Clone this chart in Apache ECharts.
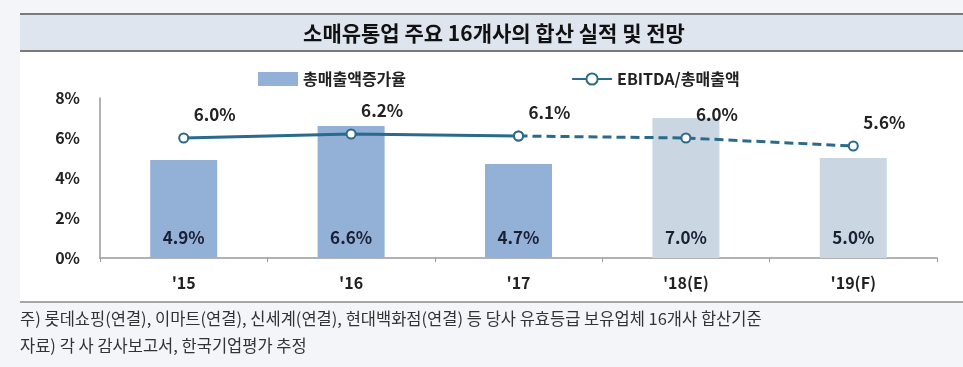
<!DOCTYPE html>
<html><head><meta charset="utf-8">
<script src="https://cdn.jsdelivr.net/npm/echarts@6/dist/echarts.min.js"></script>
<style>html,body{margin:0;padding:0;background:#f3f5f9;}#c{width:963px;height:367px;}</style>
</head><body><div id="c"></div>
<script>
const titleText = '소매유통업 주요 16개사의 합산 실적 및 전망';
const categories = ["'15", "'16", "'17", "'18(E)", "'19(F)"];
const salesGrowth = [4.9, 6.6, 4.7, 7.0, 5.0];
const ebitdaActual = [6.0, 6.2, 6.1, null, null];
const ebitdaForecast = [null, null, 6.1, 6.0, 5.6];
const yTicks = [0, 2, 4, 6, 8];
const barName = '총매출액증가율';
const lineName = 'EBITDA/총매출액';
const notes = ['주) 롯데쇼핑(연결), 이마트(연결), 신세계(연결), 현대백화점(연결) 등 당사 유효등급 보유업체 16개사 합산기준',
               '자료) 각 사 감사보고서, 한국기업평가 추정'];

const FONT = '"Noto Sans CJK KR", "Noto Sans", sans-serif';
const actualBar = '#93b1d7', fcBar = '#cad7e3', lineC = '#2b6a8a';
const chart = echarts.init(document.getElementById('c'));
chart.setOption({
  animation: false,
  textStyle: {fontFamily: FONT},
  graphic: [
    {type: 'rect', shape: {x: 20, y: 51, width: 943, height: 251}, style: {fill: '#ffffff'}, z: -10},
    {type: 'rect', shape: {x: 20, y: 14, width: 943, height: 37}, style: {fill: '#dfe5ee'}, z: -5},
    {type: 'line', shape: {x1: 20, y1: 14, x2: 963, y2: 14}, style: {stroke: '#7a7a7a', lineWidth: 2}},
    {type: 'line', shape: {x1: 20, y1: 51, x2: 963, y2: 51}, style: {stroke: '#7a7a7a', lineWidth: 2}},
    {type: 'line', shape: {x1: 20, y1: 302, x2: 963, y2: 302}, style: {stroke: '#8a8a8a', lineWidth: 1.5}},
    {type: 'text', x: 494, y: 33, style: {text: titleText, font: 'bold 21px ' + FONT, fill: '#111', align: 'center', verticalAlign: 'middle', textAlign: 'center', textVerticalAlign: 'middle'}},
    {type: 'text', x: 20, y: 319, style: {text: notes[0], font: '16.5px ' + FONT, fill: '#333', verticalAlign: 'middle', textVerticalAlign: 'middle'}},
    {type: 'text', x: 20, y: 346, style: {text: notes[1], font: '16.5px ' + FONT, fill: '#333', verticalAlign: 'middle', textVerticalAlign: 'middle'}}
  ],
  legend: {
    left: 253, top: 66, itemGap: 165, itemWidth: 40, itemHeight: 14,
    textStyle: {fontFamily: FONT, fontWeight: 'bold', fontSize: 16, color: '#222'},
    data: [{name: barName, icon: 'rect', itemStyle: {color: actualBar}}, {name: lineName}]
  },
  grid: {left: 100, right: 26, top: 98, bottom: 109},
  xAxis: {
    type: 'category', data: categories,
    axisLine: {lineStyle: {color: '#999', width: 1.5}},
    axisTick: {show: true, length: 4, lineStyle: {color: '#999'}},
    axisLabel: {fontFamily: FONT, fontWeight: 'bold', fontSize: 16, color: '#222', margin: 17}
  },
  yAxis: {
    type: 'value', min: 0, max: 8, interval: 2,
    axisLine: {show: true, lineStyle: {color: '#999', width: 1.5}},
    axisTick: {show: false}, splitLine: {show: false},
    axisLabel: {formatter: v => yTicks.includes(v) ? v + '%' : '', fontFamily: FONT, fontWeight: 'bold', fontSize: 16, color: '#222', margin: 20}
  },
  series: [
    {
      name: barName, type: 'bar', barWidth: 67,
      data: salesGrowth.map((v, i) => ({value: v, itemStyle: {color: i < 3 ? actualBar : fcBar}})),
      label: {show: true, position: 'insideBottom', distance: 12, formatter: p => p.value.toFixed(1) + '%',
        fontFamily: FONT, fontWeight: 'bold', fontSize: 17, color: '#1a1f33'}
    },
    {
      name: lineName, type: 'line', data: ebitdaActual, symbol: 'emptyCircle', symbolSize: 9,
      lineStyle: {color: lineC, width: 3}, itemStyle: {color: lineC, borderWidth: 2},
      label: {show: true, position: 'top', offset: [31, -4], formatter: p => p.value.toFixed(1) + '%',
        fontFamily: FONT, fontWeight: 'bold', fontSize: 17, color: '#222'}, z: 5
    },
    {
      name: lineName + ' (F)', type: 'line', data: ebitdaForecast, symbol: 'emptyCircle', symbolSize: 9,
      lineStyle: {color: lineC, width: 3, type: [9, 5]}, itemStyle: {color: lineC, borderWidth: 2},
      label: {show: true, position: 'top', offset: [31, -4], formatter: p => p.dataIndex === 2 ? '' : p.value.toFixed(1) + '%',
        fontFamily: FONT, fontWeight: 'bold', fontSize: 17, color: '#222'}, z: 4
    }
  ]
});
</script></body></html>
